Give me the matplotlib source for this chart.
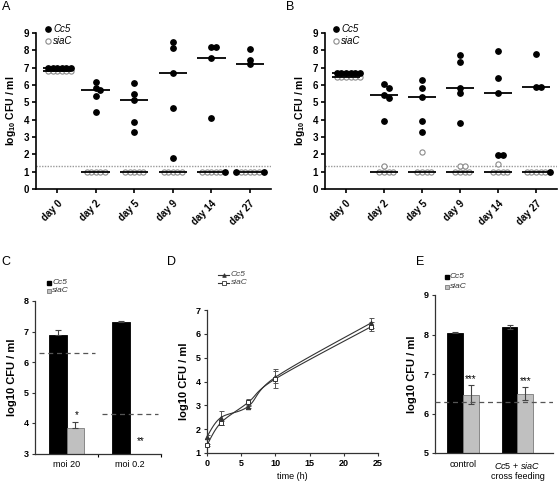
import numpy as np
import matplotlib
matplotlib.use('Agg')
import matplotlib.pyplot as plt

plt.rcParams['font.family'] = ['Liberation Sans', 'DejaVu Sans']
plt.rcParams['mathtext.fontset'] = 'custom'
plt.rcParams['mathtext.rm'] = 'Liberation Sans'
plt.rcParams['mathtext.it'] = 'Liberation Sans:italic'
plt.rcParams['mathtext.bf'] = 'Liberation Sans:bold'

# ---- data ----
days = ['day 0', 'day 2', 'day 5', 'day 9', 'day 14', 'day 27']

a_cc5 = [[7.0, 7.0, 7.0, 7.0, 7.0, 7.0],
         [6.2, 5.8, 5.7, 5.35, 4.45],
         [6.1, 5.46, 5.13, 3.88, 3.27],
         [8.46, 8.12, 6.67, 4.69, 1.77],
         [8.21, 8.21, 7.58, 4.12, 1.0],
         [8.08, 7.42, 7.19, 1.0, 1.0]]
a_siac = [[6.8, 6.8, 6.8, 6.8, 6.8, 6.8],
          [1.0, 1.0, 1.0, 1.0, 1.0],
          [1.0, 1.0, 1.0, 1.0, 1.0],
          [1.0, 1.0, 1.0, 1.0, 1.0],
          [1.0, 1.0, 1.0, 1.0, 1.0],
          [1.0, 1.0, 1.0, 1.0, 1.0]]

b_cc5 = [[6.67, 6.67, 6.67, 6.67, 6.67, 6.67],
         [6.04, 5.85, 5.42, 5.27, 3.94],
         [6.29, 5.81, 5.33, 3.94, 3.27],
         [7.73, 7.31, 5.85, 5.56, 3.83],
         [7.98, 6.42, 5.52, 1.98, 1.98],
         [7.77, 5.87, 5.87, 1.0]]
b_siac = [[6.45, 6.45, 6.45, 6.45, 6.45, 6.45],
          [1.3, 1.0, 1.0, 1.0, 1.0],
          [2.12, 1.0, 1.0, 1.0, 1.0],
          [1.3, 1.3, 1.0, 1.0, 1.0, 1.0],
          [1.44, 1.0, 1.0, 1.0, 1.0],
          [1.0, 1.0, 1.0, 1.0, 1.0]]
detect_ab = 1.3

c_conds = ['moi 20', 'moi 0.2']
c_cc5 = [6.88, 7.30]
c_cc5_err = [0.18, 0.06]
c_siac = [3.82, np.nan]
c_siac_err = [0.22, 0.0]
c_limit = [6.3, 4.28]
c_stars = ['*', '**']

d_time = [0, 2, 6, 10, 24]
d_cc5 = [1.69, 2.48, 2.95, 4.18, 6.46]
d_cc5_err = [0.05, 0.3, 0.06, 0.26, 0.2]
d_siac = [1.33, 2.26, 3.12, 4.11, 6.3]
d_siac_err = [0.05, 0.1, 0.16, 0.4, 0.2]

e_conds = ['control', 'cross']
e_cc5 = [8.05, 8.2]
e_cc5_err = [0.01, 0.05]
e_siac = [6.48, 6.5]
e_siac_err = [0.25, 0.17]
e_limit = 6.3
e_stars = ['***', '***']

W, H = 558, 482
fig = plt.figure(figsize=(W / 100, H / 100), dpi=100)
fig.patch.set_facecolor('white')


def box(l, t, r, b):
    return [l / W, 1 - b / H, (r - l) / W, (b - t) / H]


def fx(px):
    return px / W


def fy(py):
    return 1 - py / H


def swarm(ax, xc, vals, placed, step=4.6, rad=3.3):
    inv = ax.transData.inverted()
    xs = []
    for v in vals:
        px, py = ax.transData.transform((xc, v))
        k = 0
        while True:
            n = (k + 1) // 2
            off = 0 if k == 0 else (n if k % 2 == 1 else -n) * step
            if all((px + off - qx) ** 2 + (py - qy) ** 2 >= rad ** 2 for qx, qy in placed):
                break
            k += 1
        placed.append((px + off, py))
        xs.append(inv.transform((px + off, py))[0])
    return xs


def scatter_panel(ax, cc5, siac):
    ax.set_xlim(-0.55, 5.55)
    ax.set_ylim(0, 9)
    for i in range(len(days)):
        placed = []
        xs_s = swarm(ax, i, siac[i], placed)
        xs_c = swarm(ax, i, cc5[i], placed)
        ax.scatter(xs_s, siac[i], s=14, facecolor='white', edgecolor='#8a8a8a',
                   linewidth=0.8, zorder=2, clip_on=False)
        ax.hlines(np.median(siac[i]), i - 0.37, i + 0.37, color='black', lw=1.3, zorder=3)
        ax.hlines(np.median(cc5[i]), i - 0.37, i + 0.37, color='black', lw=1.3, zorder=3)
        ax.scatter(xs_c, cc5[i], s=15, color='black', zorder=4, clip_on=False)
    ax.axhline(detect_ab, color='#9a9a9a', ls=(0, (1, 1)), lw=1.0, zorder=1)
    for s in ['top', 'right']:
        ax.spines[s].set_visible(False)
    for s in ['left', 'bottom']:
        ax.spines[s].set_linewidth(1.2)
    ax.set_yticks(range(10))
    ax.set_xticks(range(len(days)))
    ax.set_xticklabels(days, rotation=45, ha='right', va='top',
                       rotation_mode='anchor', fontweight='bold', fontsize=7)
    ax.tick_params(axis='both', width=1.2, length=3, labelsize=7, pad=2)
    ax.tick_params(axis='x', pad=4)
    for t in ax.get_yticklabels():
        t.set_fontweight('bold')
    ax.set_ylabel(r'log$_{\mathbf{10}}$ CFU / ml', fontsize=7.5, fontweight='bold', labelpad=4)


# ---- A ----
axA = fig.add_axes(box(36, 33, 271, 189))
scatter_panel(axA, a_cc5, a_siac)
# ---- B ----
axB = fig.add_axes(box(325, 33, 557, 189))
scatter_panel(axB, b_cc5, b_siac)

for x0 in [48, 336]:
    fig.add_artist(plt.Line2D([fx(x0)], [fy(29.3)], marker='o', ms=3.8, color='black', ls=''))
    fig.add_artist(plt.Line2D([fx(x0)], [fy(40.7)], marker='o', ms=3.8, mfc='white',
                              mec='#8a8a8a', mew=0.8, ls=''))
    fig.text(fx(x0 + 5), fy(29.3), 'Cc5', style='italic', fontsize=7, va='center')
    fig.text(fx(x0 + 5), fy(40.7), 'siaC', style='italic', fontsize=7, va='center')


def excel_axes(ax):
    for s in ['top', 'right']:
        ax.spines[s].set_visible(False)
    for s in ['left', 'bottom']:
        ax.spines[s].set_linewidth(0.9)
        ax.spines[s].set_color('#333333')
    ax.tick_params(axis='both', width=0.8, length=2.5, labelsize=6.5, pad=2, color='#333333')
    for t in ax.get_yticklabels():
        t.set_fontweight('bold')


bw = 0.28
# ---- C ----
axC = fig.add_axes(box(35, 301, 161, 453.5))
xc = np.arange(len(c_conds))
axC.bar(xc - bw / 2, c_cc5, bw, color='black', edgecolor='black', lw=0.6, zorder=2)
axC.errorbar(xc - bw / 2, c_cc5, yerr=[np.zeros(2), c_cc5_err], fmt='none',
             ecolor='#444444', elinewidth=0.8, capsize=2, capthick=0.8, zorder=3)
ok = ~np.isnan(c_siac)
axC.bar((xc + bw / 2)[ok], np.array(c_siac)[ok], bw, color='#c0c0c0',
        edgecolor='#7a7a7a', lw=0.6, zorder=2)
axC.errorbar((xc + bw / 2)[ok], np.array(c_siac)[ok],
             yerr=[np.zeros(ok.sum()), np.array(c_siac_err)[ok]], fmt='none',
             ecolor='#444444', elinewidth=0.8, capsize=2, capthick=0.8, zorder=3)
for i in range(len(c_conds)):
    axC.hlines(c_limit[i], i - 0.43, i + 0.46, color='#555555', lw=0.9,
               linestyles=(0, (4, 3)), zorder=4)
    if ok[i]:
        ys = c_siac[i] + c_siac_err[i] + 0.22
    else:
        ys = 3.4
    axC.text(i + bw / 2 + 0.03, ys, c_stars[i], ha='center', va='center', fontsize=7)
axC.set_xlim(-0.5, 1.5)
axC.set_ylim(3, 8)
axC.set_yticks(range(3, 9))
axC.set_xticks(xc)
axC.set_xticklabels(c_conds)
axC.set_xticks([0.5, 1.5], minor=True)
excel_axes(axC)
axC.tick_params(axis='x', which='minor', length=2.5, width=0.8)
axC.tick_params(axis='x', which='major', length=0, pad=5)
axC.set_ylabel('log10 CFU / ml', fontsize=8, fontweight='bold', labelpad=5)

# ---- D ----
axD = fig.add_axes(box(207, 310, 378, 453))


def smooth(x, y, n=30):
    # Bezier/Catmull-Rom smoothing of the drawn line, in normalised axis units
    x = np.asarray(x, float) / 25.0
    y = (np.asarray(y, float) - 1) / 6.0
    P = np.column_stack([x, y])
    P = np.vstack([P[0], P, P[-1]])
    out = []
    for i in range(1, len(P) - 2):
        p0, p1, p2, p3 = P[i - 1], P[i], P[i + 1], P[i + 2]
        c1 = p1 + (p2 - p0) / 6
        c2 = p2 - (p3 - p1) / 6
        t = np.linspace(0, 1, n)[:, None]
        seg = ((1 - t) ** 3) * p1 + 3 * ((1 - t) ** 2) * t * c1 + 3 * (1 - t) * t ** 2 * c2 + t ** 3 * p2
        out.append(seg)
    seg = np.vstack(out)
    return seg[:, 0] * 25.0, seg[:, 1] * 6.0 + 1


for yv, err, mk, mfc in [(d_cc5, d_cc5_err, '^', '#333333'), (d_siac, d_siac_err, 's', 'white')]:
    sx, sy = smooth(d_time, yv)
    axD.plot(sx, sy, color='#333333', lw=0.8, zorder=2)
    axD.errorbar(d_time, yv, yerr=err, fmt='none', ecolor='#555555', elinewidth=0.7,
                 capsize=1.8, capthick=0.7, zorder=3)
    axD.plot(d_time, yv, ls='', marker=mk, ms=3.2, mfc=mfc, mec='#333333', mew=0.7,
             zorder=4, clip_on=False)
axD.set_xlim(0, 25)
axD.set_ylim(1, 7)
axD.set_xticks(range(0, 30, 5))
axD.set_yticks(range(1, 8))
excel_axes(axD)
for t in axD.get_xticklabels():
    t.set_fontweight('bold')
axD.set_xlabel('time (h)', fontsize=6.5, labelpad=3)
axD.set_ylabel('log10 CFU / ml', fontsize=8, fontweight='bold', labelpad=5)

for yy, mk, mfc, lab in [(275, '^', '#333333', 'Cc5'), (282.5, 's', 'white', 'siaC')]:
    fig.add_artist(plt.Line2D([fx(218), fx(229)], [fy(yy), fy(yy)], color='#333333', lw=0.8))
    fig.add_artist(plt.Line2D([fx(223.5)], [fy(yy)], marker=mk, ms=2.6, mfc=mfc,
                              mec='#333333', mew=0.6, ls=''))
    fig.text(fx(230.5), fy(yy), lab, style='italic', fontsize=6, va='center', color='#444444')

# ---- E ----
axE = fig.add_axes(box(435, 295, 553, 453))
bw_e = 0.29
xe = np.arange(len(e_conds))
axE.bar(xe - bw_e / 2, e_cc5, bw_e, color='black', edgecolor='black', lw=0.6, zorder=2)
axE.errorbar(xe - bw_e / 2, e_cc5, yerr=e_cc5_err, fmt='none', ecolor='#444444',
             elinewidth=0.8, capsize=2, capthick=0.8, zorder=3)
axE.bar(xe + bw_e / 2, e_siac, bw_e, color='#c0c0c0', edgecolor='#7a7a7a', lw=0.6, zorder=2)
axE.errorbar(xe + bw_e / 2, e_siac, yerr=e_siac_err, fmt='none', ecolor='#444444',
             elinewidth=0.8, capsize=2, capthick=0.8, zorder=3)
axE.axhline(e_limit, color='#555555', lw=0.9, ls=(0, (4, 3)), zorder=4)
for i in range(len(e_conds)):
    axE.text(i + bw_e / 2, e_siac[i] + e_siac_err[i] + 0.14, e_stars[i], ha='center',
             va='center', fontsize=7)
axE.set_xlim(-0.51, 1.65)
axE.set_ylim(5, 9)
axE.set_yticks(range(5, 10))
axE.set_xticks(xe)
axE.set_xticklabels(['control', '$\\it{Cc5}$ + $\\it{siaC}$\ncross feeding'],
                    fontsize=6.5, linespacing=1.1)
excel_axes(axE)
axE.tick_params(axis='x', which='major', length=0, pad=5)
axE.set_ylabel('log10 CFU / ml', fontsize=8, fontweight='bold', labelpad=5)

for x0, y0, y1 in [(49.3, 283, 291), (446.7, 277, 286.5)]:
    fig.add_artist(plt.Line2D([fx(x0)], [fy(y0)], marker='s', ms=3.3, color='black', ls=''))
    fig.add_artist(plt.Line2D([fx(x0)], [fy(y1)], marker='s', ms=3.3, mfc='#c0c0c0',
                              mec='#7a7a7a', mew=0.6, ls=''))
    fig.text(fx(x0 + 3), fy(y0), 'Cc5', style='italic', fontsize=6, va='center', color='#333333')
    fig.text(fx(x0 + 3), fy(y1), 'siaC', style='italic', fontsize=6, va='center', color='#333333')

# panel letters
for lab, x, y in [('A', 6, 7), ('B', 290, 7), ('C', 6, 262), ('D', 172, 262), ('E', 420, 262)]:
    fig.text(fx(x), fy(y), lab, fontsize=9, ha='center', va='center')

plt.savefig('out.png', dpi=100, facecolor='white')
plt.close()
